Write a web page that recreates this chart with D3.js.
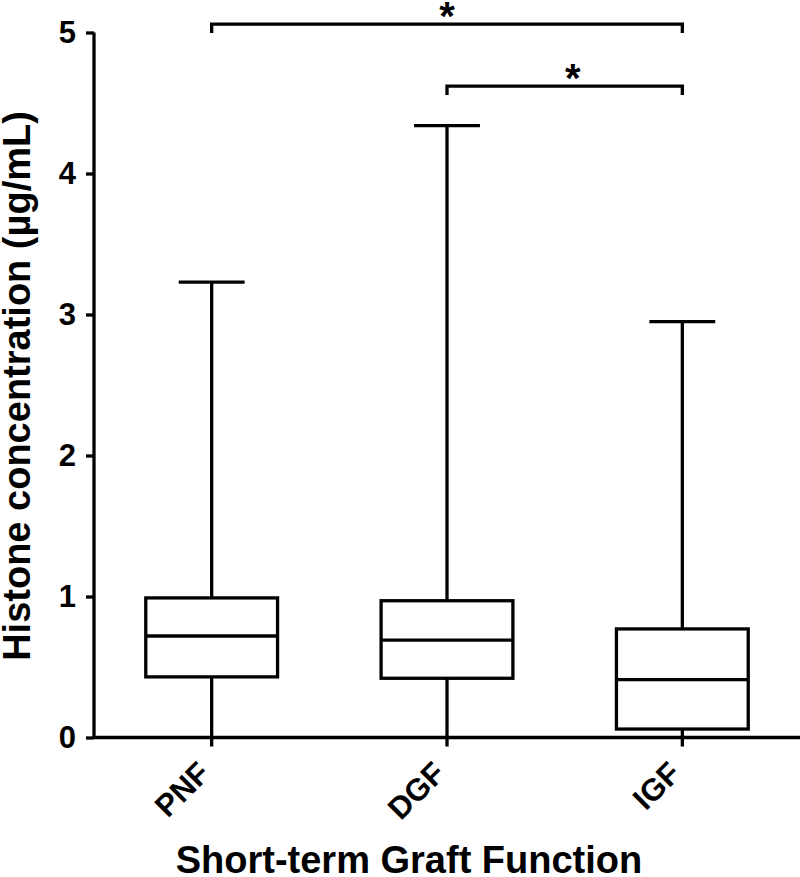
<!DOCTYPE html>
<html>
<head>
<meta charset="utf-8">
<script src="https://cdn.jsdelivr.net/npm/d3@7"></script>
<style>
  html, body { margin: 0; padding: 0; background: #fff; }
  svg { display: block; }
  text { font-family: "Liberation Sans", Arial, Helvetica, sans-serif; font-weight: bold; fill: #000; }
</style>
</head>
<body>
<svg id="chart" width="800" height="877"></svg>
<script>
// ---- data ----
const categories = ["PNF", "DGF", "IGF"];
const whiskerMin = [0, 0, 0];
const q1 = [0.43, 0.42, 0.06];
const medians = [0.72, 0.69, 0.41];
const q3 = [0.99, 0.97, 0.77];
const whiskerMax = [3.23, 4.34, 2.95];
const yTicks = [0, 1, 2, 3, 4, 5];
const sigFrom = ["PNF", "DGF"];
const sigTo = ["IGF", "IGF"];
const sigLevel = [5.06, 4.62];
const sigLabel = ["*", "*"];
const sigLabelAt = [0.5, 0.535];
const xTitle = "Short-term Graft Function";
const yTitle = "Histone concentration (µg/mL)";

// ---- layout ----
const svg = d3.select("#chart");
const mLeft = 94, mRight = 800, mTop = 32.5, mBottom = 737.5;
const sw = 3.3;

const x = d3.scaleBand().domain(categories).range([mLeft, mRight]).padding(0);
const y = d3.scaleLinear().domain([0, 5]).range([mBottom, mTop]);
const boxW = x.bandwidth() * 0.56;
const capW = boxW * 0.5;

const rows = categories.map((c, i) => ({
  c, min: whiskerMin[i], q1: q1[i], med: medians[i], q3: q3[i], max: whiskerMax[i]
}));

// axes
const yAxis = d3.axisLeft(y).tickValues(yTicks).tickFormat(d3.format("d")).tickSize(8).tickPadding(10);
const gy = svg.append("g").attr("transform", `translate(${mLeft},0)`).call(yAxis);
gy.select(".domain").attr("stroke-width", sw).attr("d", `M0,${mBottom}V${mTop}`);
gy.selectAll(".tick line").attr("stroke-width", sw);
gy.selectAll(".tick text").attr("font-size", 31).attr("font-weight", "bold")
  .attr("font-family", "'Liberation Sans', Arial, sans-serif");

const xAxis = d3.axisBottom(x).tickSize(9).tickFormat("");
const gx = svg.append("g").attr("transform", `translate(0,${mBottom})`).call(xAxis);
gx.select(".domain").attr("stroke-width", sw).attr("d", `M${mLeft},0H${mRight}`);
gx.selectAll(".tick line").attr("stroke-width", sw);

// x tick labels, rotated
svg.append("g").selectAll("text").data(categories).join("text")
  .attr("transform", d => `translate(${x(d) + x.bandwidth() / 2},775) rotate(-45)`)
  .attr("text-anchor", "end")
  .attr("font-size", 31)
  .text(d => d);

// boxes
const g = svg.append("g").attr("stroke", "#000").attr("stroke-width", sw).attr("fill", "none");
rows.forEach(r => {
  const cx = x(r.c) + x.bandwidth() / 2;
  g.append("line").attr("x1", cx).attr("x2", cx).attr("y1", y(r.q3)).attr("y2", y(r.max));
  g.append("line").attr("x1", cx).attr("x2", cx).attr("y1", y(r.q1)).attr("y2", y(r.min));
  g.append("line").attr("x1", cx - capW / 2).attr("x2", cx + capW / 2).attr("y1", y(r.max)).attr("y2", y(r.max));
  g.append("rect").attr("x", cx - boxW / 2).attr("width", boxW)
    .attr("y", y(r.q3)).attr("height", y(r.q1) - y(r.q3)).attr("fill", "#fff");
  g.append("line").attr("x1", cx - boxW / 2).attr("x2", cx + boxW / 2).attr("y1", y(r.med)).attr("y2", y(r.med));
});

// significance brackets
sigFrom.forEach((f, i) => {
  const x1 = x(f) + x.bandwidth() / 2;
  const x2 = x(sigTo[i]) + x.bandwidth() / 2;
  const yl = y(sigLevel[i]);
  svg.append("path")
    .attr("d", `M${x1},${yl + 9}V${yl}H${x2}V${yl + 9}`)
    .attr("fill", "none").attr("stroke", "#000").attr("stroke-width", sw);
  svg.append("text")
    .attr("x", x1 + (x2 - x1) * sigLabelAt[i])
    .attr("y", yl + 6)
    .attr("text-anchor", "middle")
    .attr("font-size", 40)
    .text(sigLabel[i]);
});

// titles
svg.append("text").attr("x", 409).attr("y", 873).attr("text-anchor", "middle")
  .attr("font-size", 38).text(xTitle);
svg.append("text").attr("transform", `translate(30,386) rotate(-90)`).attr("text-anchor", "middle")
  .attr("font-size", 38).text(yTitle);
</script>
</body>
</html>
